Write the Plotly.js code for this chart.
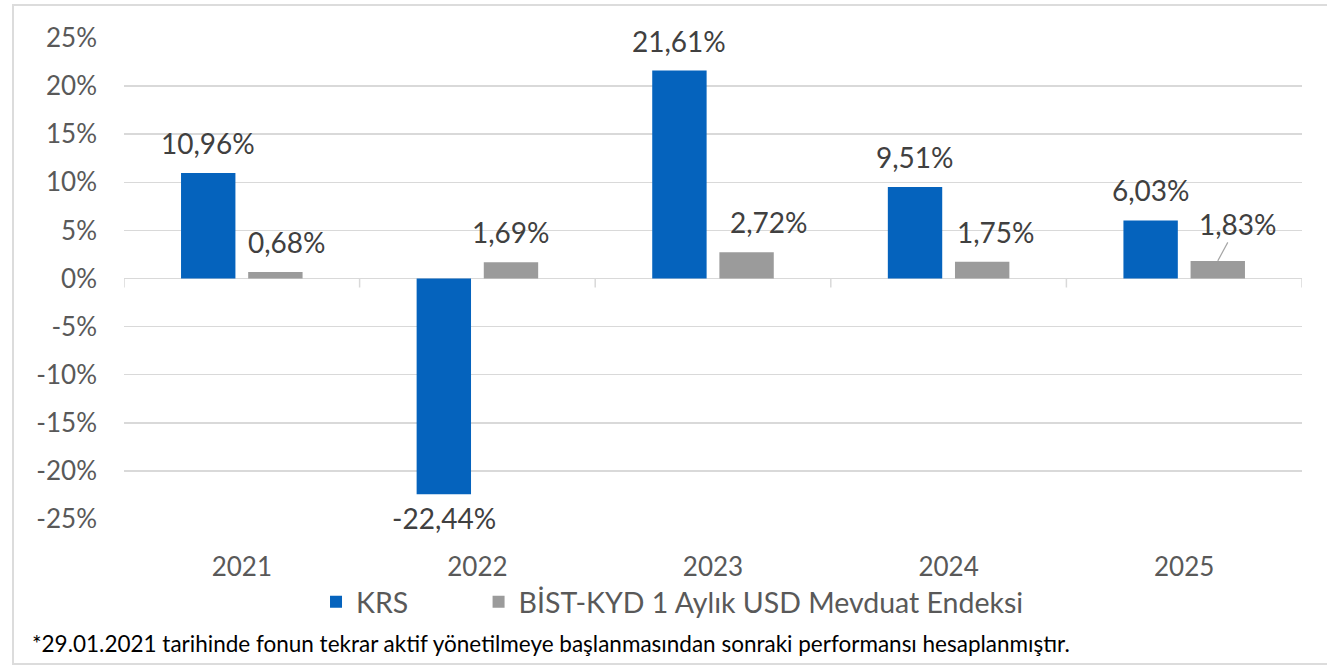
<!DOCTYPE html>
<html>
<head>
<meta charset="utf-8">
<script src="https://cdn.plot.ly/plotly-3.0.1.min.js"></script>
<style>
  html, body { margin: 0; padding: 0; background: #ffffff; }
  #wrap { position: relative; width: 1327px; height: 667px; }
  #chart { width: 1327px; height: 667px; }
  #frame { position: absolute; left: 12px; top: 4px; width: 1330px; height: 661px;
           border: 2px solid #dcdcdc; border-right: none; pointer-events: none; box-sizing: border-box; }
</style>
</head>
<body>
<div id="wrap">
  <div id="chart"></div>
  <div id="frame"></div>
</div>
<script>
// ---- data ----
const years = ['2021', '2022', '2023', '2024', '2025'];
const krsValues = [10.96, -22.44, 21.61, 9.51, 6.03];
const bistValues = [0.68, 1.69, 2.72, 1.75, 1.83];
const seriesNames = ['KRS', 'BİST-KYD 1 Aylık USD Mevduat Endeksi'];
const yTickValues = [-25, -20, -15, -10, -5, 0, 5, 10, 15, 20, 25];
const footnote = '*29.01.2021 tarihinde fonun tekrar aktif yönetilmeye başlanmasından sonraki performansı hesaplanmıştır.';

// ---- style ----
const BLUE = '#0563BD';
const GRAY = '#9B9B9B';
const GRID = '#d9d9d9';
const FONT = 'Lato, "Open Sans", sans-serif';
const BARGAP = 0.43;
const GROUPGAP = 0.19;
const slotOffset = (1 - BARGAP) / 4;
// Excel-style nudges of the gray labels (pixels)
const grayLabelNudge = [12, 0, 22, 14, 0];

const fmt = v => v.toFixed(2).replace('.', ',') + '%';

const traces = [
  { type: 'bar', name: seriesNames[0], x: years, y: krsValues, legend: 'legend',
    marker: { color: BLUE }, hoverinfo: 'skip' },
  { type: 'bar', name: seriesNames[1], x: years, y: bistValues, legend: 'legend2',
    marker: { color: GRAY }, hoverinfo: 'skip' }
];

const labelFont = { family: FONT, size: 28, color: '#404040' };
const annotations = [];
krsValues.forEach((v, i) => {
  annotations.push({
    xref: 'x', yref: 'y', x: i - slotOffset, y: v,
    text: fmt(v), showarrow: false,
    yanchor: v >= 0 ? 'bottom' : 'top', yshift: v >= 0 ? 11 : -5,
    font: labelFont
  });
});
bistValues.forEach((v, i) => {
  const last = i === bistValues.length - 1;
  if (last) {
    annotations.push({
      xref: 'x', yref: 'y', x: i + slotOffset, y: v,
      text: fmt(v), showarrow: true, arrowhead: 0, arrowwidth: 1.2,
      arrowcolor: '#a6a6a6', ax: 20, ay: -37, standoff: 0,
      font: labelFont
    });
  } else {
    annotations.push({
      xref: 'x', yref: 'y', x: i + slotOffset, y: v,
      text: fmt(v), showarrow: false, xshift: grayLabelNudge[i],
      yanchor: 'bottom', yshift: 11,
      font: labelFont
    });
  }
});
annotations.push({
  xref: 'paper', yref: 'paper', x: -0.0798, y: -0.258,
  xanchor: 'left', yanchor: 'middle', showarrow: false,
  text: footnote, font: { family: FONT, size: 22.5, color: '#000000' }
});

// tick marks at category boundaries on the zero line
const shapes = [];
for (let b = 0; b <= years.length; b++) {
  shapes.push({
    type: 'line', xref: 'x', yref: 'y', ysizemode: 'pixel', yanchor: 0,
    x0: b - 0.5, x1: b - 0.5, y0: 0, y1: -9,
    line: { color: GRID, width: 1.5 }
  });
}

const legendCommon = {
  orientation: 'h', xanchor: 'left', y: -0.173, yanchor: 'middle',
  font: { family: FONT, size: 28.5, color: '#595959' },
  bgcolor: 'rgba(0,0,0,0)', itemclick: false, itemdoubleclick: false
};

const layout = {
  width: 1327, height: 667,
  margin: { l: 124, r: 25, t: 37.5, b: 147.5 },
  paper_bgcolor: '#ffffff', plot_bgcolor: '#ffffff',
  barmode: 'group', bargap: BARGAP, bargroupgap: GROUPGAP,
  showlegend: true,
  legend: Object.assign({}, legendCommon, { x: 0.163 }),
  legend2: Object.assign({}, legendCommon, { x: 0.301 }),
  xaxis: {
    type: 'category', range: [-0.5, 4.5], showgrid: false, zeroline: false,
    showline: false, ticks: '', ticklabelstandoff: 30,
    tickfont: { family: FONT, size: 26, color: '#595959' }, fixedrange: true
  },
  yaxis: {
    range: [-25, 25], tickvals: yTickValues,
    ticktext: yTickValues.map(v => v + '%'),
    showgrid: true, gridcolor: GRID, gridwidth: 1.5,
    zeroline: true, zerolinecolor: GRID, zerolinewidth: 1.5,
    showline: false, ticks: '', ticklabelstandoff: 26,
    tickfont: { family: FONT, size: 26, color: '#595959' }, fixedrange: true
  },
  annotations: annotations,
  shapes: shapes
};

Plotly.newPlot('chart', traces, layout, { displayModeBar: false, staticPlot: true });
</script>
</body>
</html>
